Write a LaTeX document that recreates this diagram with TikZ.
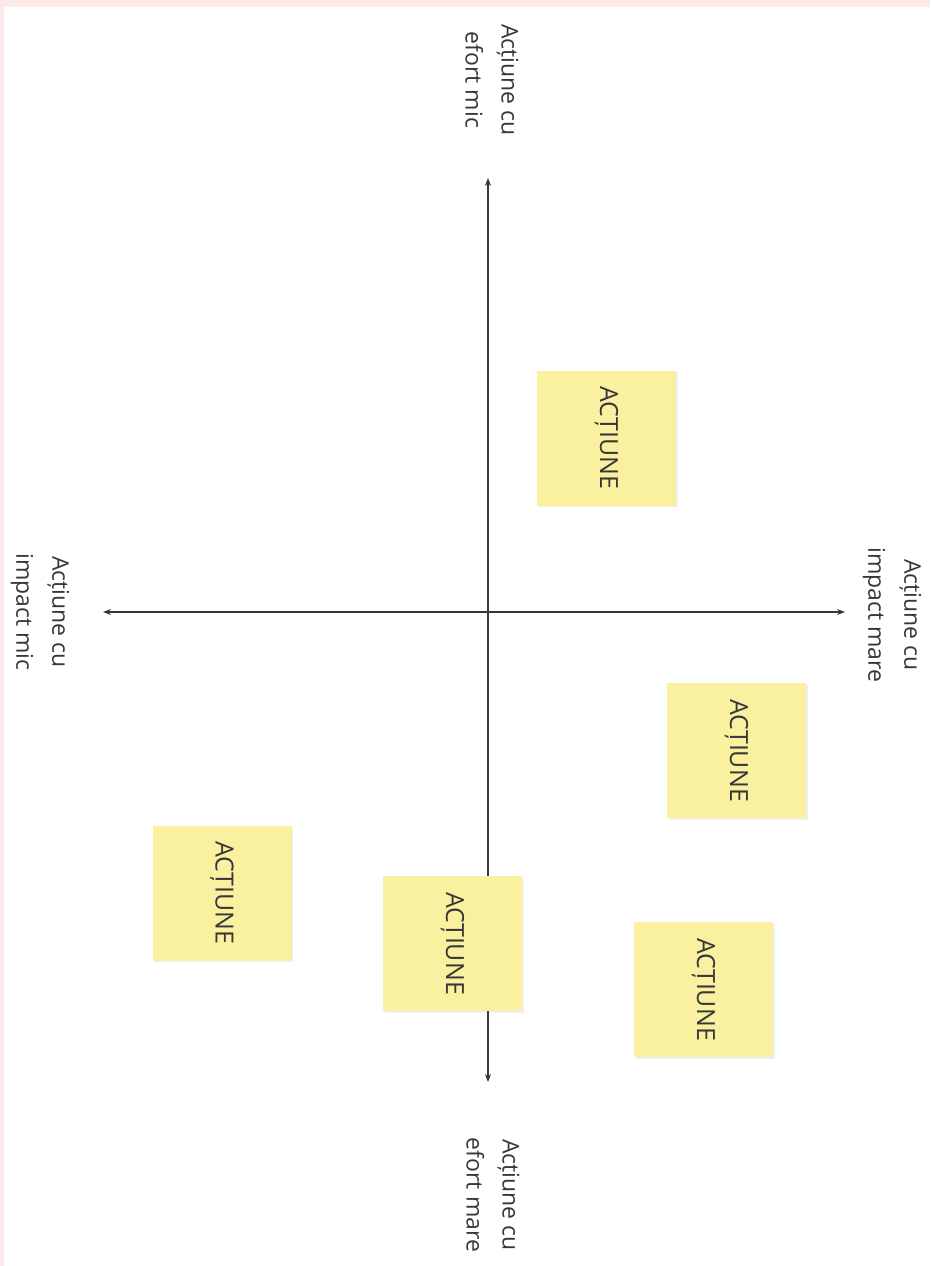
\documentclass[tikz,border=0pt]{standalone}
\usepackage{fontspec}
\setmainfont{Open Sans}
\usetikzlibrary{arrows.meta,shadows}

\definecolor{notefill}{RGB}{250,241,160}
\definecolor{pinkedge}{RGB}{253,232,234}
\definecolor{inkgray}{RGB}{55,55,55}

\begin{document}
\begin{tikzpicture}[x=1pt,y=-1pt,
  axis/.style={draw=inkgray, line width=1.1pt, {Stealth[length=8pt,width=6pt]}-{Stealth[length=8pt,width=6pt]}},
  axislabel/.style={rotate=-90, align=center, text=inkgray, inner sep=0pt,
    font=\fontsize{23}{36}\selectfont},
  note/.style={rotate=-90, fill=notefill, minimum width=135pt, minimum height=139pt,
    inner sep=0pt, text=inkgray, font=\fontsize{25}{28}\selectfont,
    drop shadow={opacity=0.12, shadow xshift=1.5pt, shadow yshift=-1.5pt}}]

%page
\fill[pinkedge] (0,0) rectangle (930,1266);
\fill[white] (4,7) rectangle (930,1266);

%axes
\coordinate (effort low) at (488,178);
\coordinate (effort high) at (488,1082);
\coordinate (impact low) at (103,612);
\coordinate (impact high) at (845,612);

\draw[axis] (effort high) -- (effort low);
\draw[axis] (impact low) -- (impact high);

%axis labels
\node[axislabel] (lbl top) at (492,80) {Acțiune cu\\efort mic};
\node[axislabel] (lbl right) at (892,615) {Acțiune cu\\impact mare};
\node[axislabel] (lbl left) at (40,612) {Acțiune cu\\impact mic};
\node[axislabel] (lbl bottom) at (493,1195) {Acțiune cu\\efort mare};

%sticky notes
\node[note] (note1) at (606.5,438) {ACȚIUNE};
\node[note] (note2) at (736.5,750.5) {ACȚIUNE};
\node[note] (note3) at (222,893) {ACȚIUNE};
\node[note] (note4) at (452.5,943.5) {ACȚIUNE};
\node[note] (note5) at (703.5,989.5) {ACȚIUNE};

\end{tikzpicture}
\end{document}
